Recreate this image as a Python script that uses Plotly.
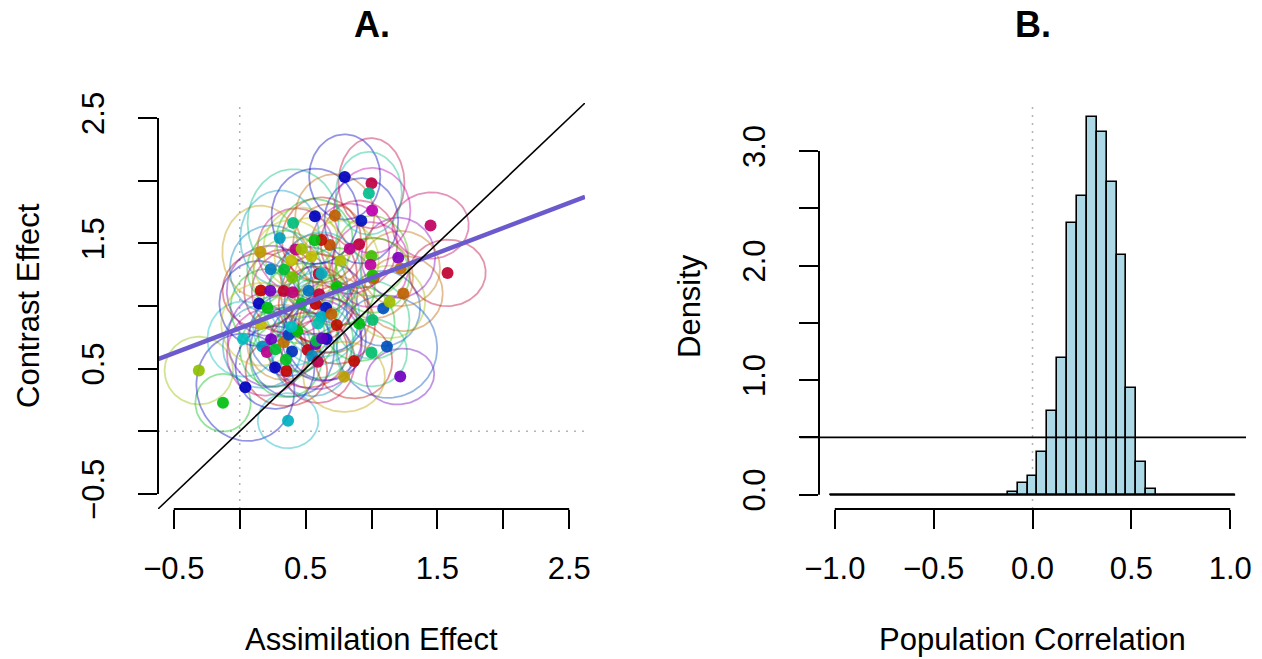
import numpy as np
import plotly.graph_objects as go
import colorsys

# ---------------- Panel A data (per-participant estimates) ----------------
assimilation = [-0.310, -0.127, 0.043, 0.367, 0.025, 0.172, 0.238, 0.205, 0.272, 0.335,
                0.373, 0.397, 0.268, 0.354, 0.351, 0.437, 0.516, 0.576, 0.550, 0.593,
                0.658, 0.582, 0.146, 0.210, 0.160, 0.232, 0.333, 0.402, 0.522, 0.603,
                0.576, 0.655, 0.620, 0.696, 0.737, 0.595, 0.906, 1.008, 1.089, 1.137,
                1.241, 1.117, 1.000, 1.218, 0.868, 0.792, 1.577, 1.448, 1.203, 1.220,
                1.015, 1.000, 0.992, 0.906, 0.835, 0.765, 0.684, 0.620, 0.568, 0.544,
                0.599, 0.405, 0.304, 0.425, 0.470, 0.158, 0.235, 0.337, 0.390, 0.398,
                0.571, 0.722, 0.923, 1.005, 0.797, 1.000, 0.980, 0.736, 1.008, 0.468,
                0.160, 0.392, 0.625, 0.620]
contrast = [0.485, 0.228, 0.351, 0.085, 0.737, 0.676, 0.735, 0.633, 0.655, 0.710,
            0.771, 0.636, 0.509, 0.482, 0.572, 0.800, 0.649, 0.696, 0.600, 0.556,
            0.737, 0.723, 1.020, 0.986, 1.124, 1.121, 1.120, 1.110, 1.121, 1.094,
            1.015, 0.987, 0.914, 0.937, 0.848, 0.861, 0.861, 0.888, 0.981, 1.033,
            1.100, 0.676, 0.628, 0.437, 0.562, 0.435, 1.264, 1.642, 1.385, 1.299,
            1.222, 1.399, 1.330, 1.492, 1.457, 1.362, 1.486, 1.527, 1.524, 1.395,
            1.256, 1.662, 1.542, 1.450, 1.455, 1.431, 1.293, 1.292, 1.365, 1.230,
            1.716, 1.722, 1.680, 1.762, 2.030, 1.980, 1.900, 1.153, 1.246, 1.020,
            0.854, 0.835, 0.742, 1.259]
hue_deg = [75, 125, 240, 185, 180, 195, 275, 315, 135, 35,
           220, 225, 240, 0, 130, 120, 355, 275, 195, 335,
           245, 140, 240, 125, 0, 275, 345, 325, 205, 340,
           0, 235, 185, 30, 5, 175, 125, 155, 215, 70,
           30, 215, 155, 275, 3, 50, 345, 330, 280, 35,
           28, 100, 310, 340, 315, 65, 25, 5, 125, 60,
           345, 160, 190, 320, 70, 48, 200, 135, 60, 85,
           240, 30, 235, 305, 240, 340, 165, 120, 110, 130,
           60, 180, 270, 185]
radius_x = [0.26, 0.21, 0.37, 0.23, 0.27, 0.30, 0.33, 0.30, 0.27, 0.28,
            0.30, 0.32, 0.30, 0.31, 0.27, 0.30, 0.30, 0.35, 0.30, 0.28,
            0.30, 0.28, 0.30, 0.28, 0.29, 0.33, 0.30, 0.31, 0.30, 0.29,
            0.28, 0.32, 0.29, 0.30, 0.29, 0.30, 0.27, 0.28, 0.28, 0.27,
            0.30, 0.38, 0.27, 0.26, 0.29, 0.31, 0.29, 0.29, 0.28, 0.30,
            0.30, 0.28, 0.29, 0.29, 0.30, 0.29, 0.28, 0.30, 0.29, 0.28,
            0.29, 0.345, 0.30, 0.29, 0.29, 0.29, 0.31, 0.28, 0.29, 0.30,
            0.33, 0.30, 0.28, 0.29, 0.27, 0.25, 0.25, 0.29, 0.28, 0.29,
            0.30, 0.29, 0.30, 0.30]
radius_y = [0.27, 0.23, 0.43, 0.22, 0.30, 0.33, 0.38, 0.35, 0.30, 0.30,
            0.33, 0.36, 0.33, 0.28, 0.30, 0.32, 0.30, 0.36, 0.32, 0.33,
            0.33, 0.30, 0.34, 0.31, 0.30, 0.36, 0.33, 0.34, 0.35, 0.32,
            0.30, 0.36, 0.32, 0.31, 0.31, 0.33, 0.30, 0.31, 0.30, 0.29,
            0.30, 0.41, 0.27, 0.22, 0.30, 0.28, 0.265, 0.265, 0.32, 0.30,
            0.32, 0.32, 0.34, 0.35, 0.36, 0.32, 0.33, 0.34, 0.33, 0.31,
            0.32, 0.43, 0.38, 0.33, 0.33, 0.37, 0.35, 0.31, 0.32, 0.32,
            0.38, 0.33, 0.34, 0.34, 0.34, 0.36, 0.33, 0.31, 0.30, 0.32,
            0.33, 0.31, 0.34, 0.33]
tilt_deg = [0, 0, 10, 0, 0, 0, 0, -10, 0, 0,
            0, 0, 0, 0, 0, 0, 0, 0, 0, 0,
            0, 0, 0, 0, 0, 0, 0, 0, 0, 0,
            0, 0, 0, 0, 0, 0, 0, 0, 0, 0,
            0, 10, 0, 15, 0, 0, 5, 5, 0, 0,
            0, 0, 0, 0, 0, 0, 0, 0, 0, 0,
            0, 0, 0, 0, 0, 0, 0, 0, 0, 0,
            0, 0, 0, 0, 0, 0, 0, 0, 0, 0,
            0, 0, 0, 0]

reg_intercept = 0.823
reg_slope = 0.40

A_ticks = [-0.5, 0.0, 0.5, 1.0, 1.5, 2.0, 2.5]
A_ticktext = ["\u22120.5", "", "0.5", "", "1.5", "", "2.5"]

# ---------------- Panel B data (posterior of population correlation) ----------------
corr_bin_start = -1.0
corr_bin_width = 0.05
corr_density = [0, 0, 0, 0, 0, 0, 0, 0, 0, 0,
                0, 0, 0, 0, 0, 0, 0, 0, 0.02, 0.10,
                0.166, 0.369, 0.727, 1.19, 2.37, 2.61, 3.30, 3.17, 2.73, 2.09,
                0.93, 0.285, 0.046, 0, 0, 0, 0, 0, 0, 0,
                0]
prior_density = 0.5

B_xticks = [-1.0, -0.5, 0.0, 0.5, 1.0]
B_xticktext = ["\u22121.0", "\u22120.5", "0.0", "0.5", "1.0"]
B_yticks = [0.0, 0.5, 1.0, 1.5, 2.0, 2.5, 3.0]
B_yticktext = ["0.0", "", "1.0", "", "2.0", "", "3.0"]

# ---------------- layout geometry ----------------
W, H = 1262, 659
FONT = "Liberation Sans, Arial, sans-serif"
FS = 31


def fx(p):
    return p / W


def fy(p):
    return 1 - p / H


A_xr = [-0.62, 2.62]
A_yr = [-0.62, 2.62]
B_xr = [-1.08, 1.08]
B_yr = [-0.125, 3.42]

A_xdom = [fx(158), fx(585)]
B_xdom = [fx(819), fx(1246)]
ydom = [fy(509), fy(103)]


def col(h, a):
    r, g, b = colorsys.hsv_to_rgb(h / 360.0, 1.0, 0.75)
    return "rgba(%d,%d,%d,%.2f)" % (round(r * 255), round(g * 255), round(b * 255), a)


fig = go.Figure()

t = np.linspace(0, 2 * np.pi, 120)
for cx, cy, h, rx, ry, th in zip(assimilation, contrast, hue_deg, radius_x, radius_y, tilt_deg):
    a = np.deg2rad(th)
    ex = rx * np.cos(t)
    ey = ry * np.sin(t)
    X = cx + ex * np.cos(a) - ey * np.sin(a)
    Y = cy + ex * np.sin(a) + ey * np.cos(a)
    fig.add_trace(go.Scatter(x=X, y=Y, mode="lines", line=dict(color=col(h, 0.42), width=1.8),
                             hoverinfo="skip", xaxis="x", yaxis="y"))

fig.add_trace(go.Scatter(x=assimilation, y=contrast, mode="markers",
                         marker=dict(size=12, color=[col(h, 0.92) for h in hue_deg], line=dict(width=0)),
                         xaxis="x", yaxis="y"))

xs = np.array(A_xr)
fig.add_trace(go.Scatter(x=xs, y=reg_intercept + reg_slope * xs, mode="lines",
                         line=dict(color="#6A5ACD", width=4.5), xaxis="x", yaxis="y"))
fig.add_trace(go.Scatter(x=xs, y=xs, mode="lines", line=dict(color="black", width=1.6),
                         xaxis="x", yaxis="y"))

# Panel B histogram
n_bins = len(corr_density)
edges = corr_bin_start - corr_bin_width / 2 + corr_bin_width * np.arange(n_bins + 1)
centers = corr_bin_start + corr_bin_width * np.arange(n_bins)
fig.add_trace(go.Bar(x=centers, y=corr_density, width=corr_bin_width,
                     marker=dict(color="#ADD8E6", line=dict(color="black", width=1.6)),
                     xaxis="x2", yaxis="y2"))
fig.add_trace(go.Scatter(x=[edges[0], edges[-1]], y=[0, 0], mode="lines",
                         line=dict(color="black", width=2.2), xaxis="x2", yaxis="y2"))

shapes = []
dot = dict(color="#b4b4b4", width=1.5, dash="2px,6px")
# reference lines panel A
shapes.append(dict(type="line", xref="x", yref="y domain", x0=0, x1=0, y0=0, y1=1, line=dot, layer="below"))
shapes.append(dict(type="line", xref="x domain", yref="y", x0=0, x1=1, y0=0, y1=0, line=dot, layer="below"))
# reference line panel B
shapes.append(dict(type="line", xref="x2", yref="y2 domain", x0=0, x1=0, y0=0, y1=1, line=dot, layer="below"))
shapes.append(dict(type="line", xref="x2 domain", yref="y2", x0=-19 / 427, x1=1, y0=prior_density,
                   y1=prior_density, line=dict(color="black", width=1.6)))
# R-style axis lines (span first to last tick)
axl = dict(color="black", width=2)
shapes.append(dict(type="line", xref="x", yref="y domain", x0=A_ticks[0], x1=A_ticks[-1], y0=0, y1=0, line=axl))
shapes.append(dict(type="line", xref="x domain", yref="y", x0=0, x1=0, y0=A_ticks[0], y1=A_ticks[-1], line=axl))
shapes.append(dict(type="line", xref="x2", yref="y2 domain", x0=B_xticks[0], x1=B_xticks[-1], y0=0, y1=0, line=axl))
shapes.append(dict(type="line", xref="x2 domain", yref="y2", x0=0, x1=0, y0=B_yticks[0], y1=B_yticks[-1], line=axl))


def axis(domain, rng, tv, tt, angle, anchor, standoff):
    return dict(domain=domain, range=rng, tickvals=tv, ticktext=tt, ticks="outside", ticklen=19,
                tickwidth=2, tickcolor="black", showline=False, showgrid=False, zeroline=False,
                tickfont=dict(family=FONT, size=FS, color="black"), tickangle=angle,
                ticklabelstandoff=standoff, fixedrange=True, anchor=anchor, automargin=False)


fig.update_layout(
    width=W, height=H, autosize=False,
    margin=dict(l=0, r=0, t=0, b=0, pad=0, autoexpand=False),
    paper_bgcolor="white", plot_bgcolor="white", showlegend=False,
    xaxis=axis(A_xdom, A_xr, A_ticks, A_ticktext, 0, "y", 13),
    yaxis=axis(ydom, A_yr, A_ticks, A_ticktext, -90, "x", 22),
    xaxis2=axis(B_xdom, B_xr, B_xticks, B_xticktext, 0, "y2", 13),
    yaxis2=axis(ydom, B_yr, B_yticks, B_yticktext, -90, "x2", 22),
    shapes=shapes,
    bargap=0,
)

ann = []
ann.append(dict(text="<b>A.</b>", x=fx(371.5), y=fy(25), font=dict(family=FONT, size=36, color="black")))
ann.append(dict(text="<b>B.</b>", x=fx(1032.5), y=fy(25), font=dict(family=FONT, size=36, color="black")))
ann.append(dict(text="Assimilation Effect", x=fx(371.5), y=fy(639), font=dict(family=FONT, size=FS, color="black")))
ann.append(dict(text="Population Correlation", x=fx(1032.5), y=fy(639), font=dict(family=FONT, size=FS, color="black")))
ann.append(dict(text="Contrast Effect", x=fx(29), y=fy(306), textangle=-90, font=dict(family=FONT, size=FS, color="black")))
ann.append(dict(text="Density", x=fx(690), y=fy(306), textangle=-90, font=dict(family=FONT, size=FS, color="black")))
for a in ann:
    a.update(xref="paper", yref="paper", xanchor="center", yanchor="middle", showarrow=False, borderpad=0)
fig.update_layout(annotations=ann)

fig.write_html("out.html", config={"displayModeBar": False},
               post_script="document.body.style.margin='0';document.body.style.overflow='hidden';")
